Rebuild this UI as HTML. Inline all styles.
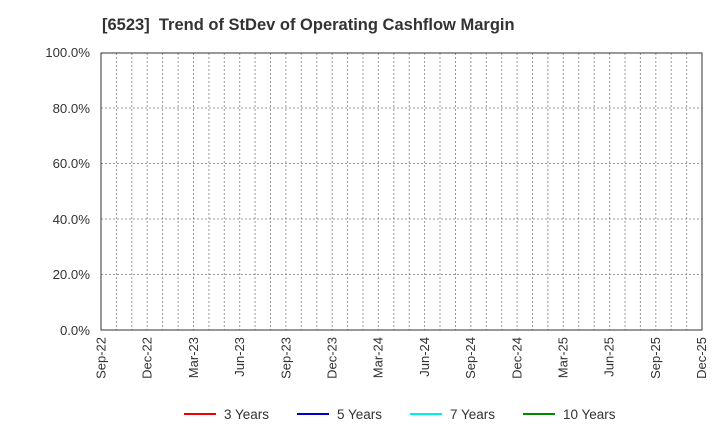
<!DOCTYPE html>
<html><head><style>body{margin:0;background:#fff}svg{display:block}</style></head><body>
<svg width="720" height="440" xmlns="http://www.w3.org/2000/svg" font-family="Liberation Sans, sans-serif">
<text x="102" y="30" font-size="16.5" font-weight="bold" fill="#333" xml:space="preserve">[6523]  Trend of StDev of Operating Cashflow Margin</text>
<g stroke="#999" stroke-dasharray="2,2">
<line x1="101" y1="274.5" x2="702" y2="274.5"/>
<line x1="101" y1="219" x2="702" y2="219"/>
<line x1="101" y1="163.5" x2="702" y2="163.5"/>
<line x1="101" y1="108" x2="702" y2="108"/>
<line x1="116.4" y1="53" x2="116.4" y2="330"/><line x1="131.8" y1="53" x2="131.8" y2="330"/><line x1="147.2" y1="53" x2="147.2" y2="330"/><line x1="162.6" y1="53" x2="162.6" y2="330"/><line x1="178.1" y1="53" x2="178.1" y2="330"/><line x1="193.5" y1="53" x2="193.5" y2="330"/><line x1="208.9" y1="53" x2="208.9" y2="330"/><line x1="224.3" y1="53" x2="224.3" y2="330"/><line x1="239.7" y1="53" x2="239.7" y2="330"/><line x1="255.1" y1="53" x2="255.1" y2="330"/><line x1="270.5" y1="53" x2="270.5" y2="330"/><line x1="285.9" y1="53" x2="285.9" y2="330"/><line x1="301.3" y1="53" x2="301.3" y2="330"/><line x1="316.8" y1="53" x2="316.8" y2="330"/><line x1="332.2" y1="53" x2="332.2" y2="330"/><line x1="347.6" y1="53" x2="347.6" y2="330"/><line x1="363" y1="53" x2="363" y2="330"/><line x1="378.4" y1="53" x2="378.4" y2="330"/><line x1="393.8" y1="53" x2="393.8" y2="330"/><line x1="409.2" y1="53" x2="409.2" y2="330"/><line x1="424.6" y1="53" x2="424.6" y2="330"/><line x1="440" y1="53" x2="440" y2="330"/><line x1="455.5" y1="53" x2="455.5" y2="330"/><line x1="470.9" y1="53" x2="470.9" y2="330"/><line x1="486.3" y1="53" x2="486.3" y2="330"/><line x1="501.7" y1="53" x2="501.7" y2="330"/><line x1="517.1" y1="53" x2="517.1" y2="330"/><line x1="532.5" y1="53" x2="532.5" y2="330"/><line x1="547.9" y1="53" x2="547.9" y2="330"/><line x1="563.3" y1="53" x2="563.3" y2="330"/><line x1="578.7" y1="53" x2="578.7" y2="330"/><line x1="594.2" y1="53" x2="594.2" y2="330"/><line x1="609.6" y1="53" x2="609.6" y2="330"/><line x1="625" y1="53" x2="625" y2="330"/><line x1="640.4" y1="53" x2="640.4" y2="330"/><line x1="655.8" y1="53" x2="655.8" y2="330"/><line x1="671.2" y1="53" x2="671.2" y2="330"/><line x1="686.6" y1="53" x2="686.6" y2="330"/>
</g>
<rect x="101" y="53" width="601" height="277" fill="none" stroke="#333" stroke-width="1"/>
<g font-size="13.2" fill="#333" text-anchor="end">
<text x="90" y="335">0.0%</text><text x="90" y="279">20.0%</text><text x="90" y="224">40.0%</text><text x="90" y="168">60.0%</text><text x="90" y="113">80.0%</text><text x="90" y="57">100.0%</text>
</g>
<g font-size="13" fill="#333" text-anchor="end">
<text transform="translate(105.5,337) rotate(-90)">Sep-22</text>
<text transform="translate(151.7,337) rotate(-90)">Dec-22</text>
<text transform="translate(197.9,337) rotate(-90)">Mar-23</text>
<text transform="translate(244.1,337) rotate(-90)">Jun-23</text>
<text transform="translate(290.3,337) rotate(-90)">Sep-23</text>
<text transform="translate(336.5,337) rotate(-90)">Dec-23</text>
<text transform="translate(382.7,337) rotate(-90)">Mar-24</text>
<text transform="translate(428.9,337) rotate(-90)">Jun-24</text>
<text transform="translate(475.1,337) rotate(-90)">Sep-24</text>
<text transform="translate(521.3,337) rotate(-90)">Dec-24</text>
<text transform="translate(567.5,337) rotate(-90)">Mar-25</text>
<text transform="translate(613.7,337) rotate(-90)">Jun-25</text>
<text transform="translate(659.9,337) rotate(-90)">Sep-25</text>
<text transform="translate(706.1,337) rotate(-90)">Dec-25</text>
</g>
<g font-size="13.5" fill="#333">
<line x1="184" y1="414" x2="216" y2="414" stroke="#e00" stroke-width="2"/><text x="224" y="419">3 Years</text>
<line x1="297" y1="414" x2="329" y2="414" stroke="#00c" stroke-width="2"/><text x="337" y="419">5 Years</text>
<line x1="410" y1="414" x2="442" y2="414" stroke="#0ee" stroke-width="2"/><text x="450" y="419">7 Years</text>
<line x1="523" y1="414" x2="555" y2="414" stroke="#080" stroke-width="2"/><text x="563" y="419">10 Years</text>
</g>
</svg>
</body></html>
